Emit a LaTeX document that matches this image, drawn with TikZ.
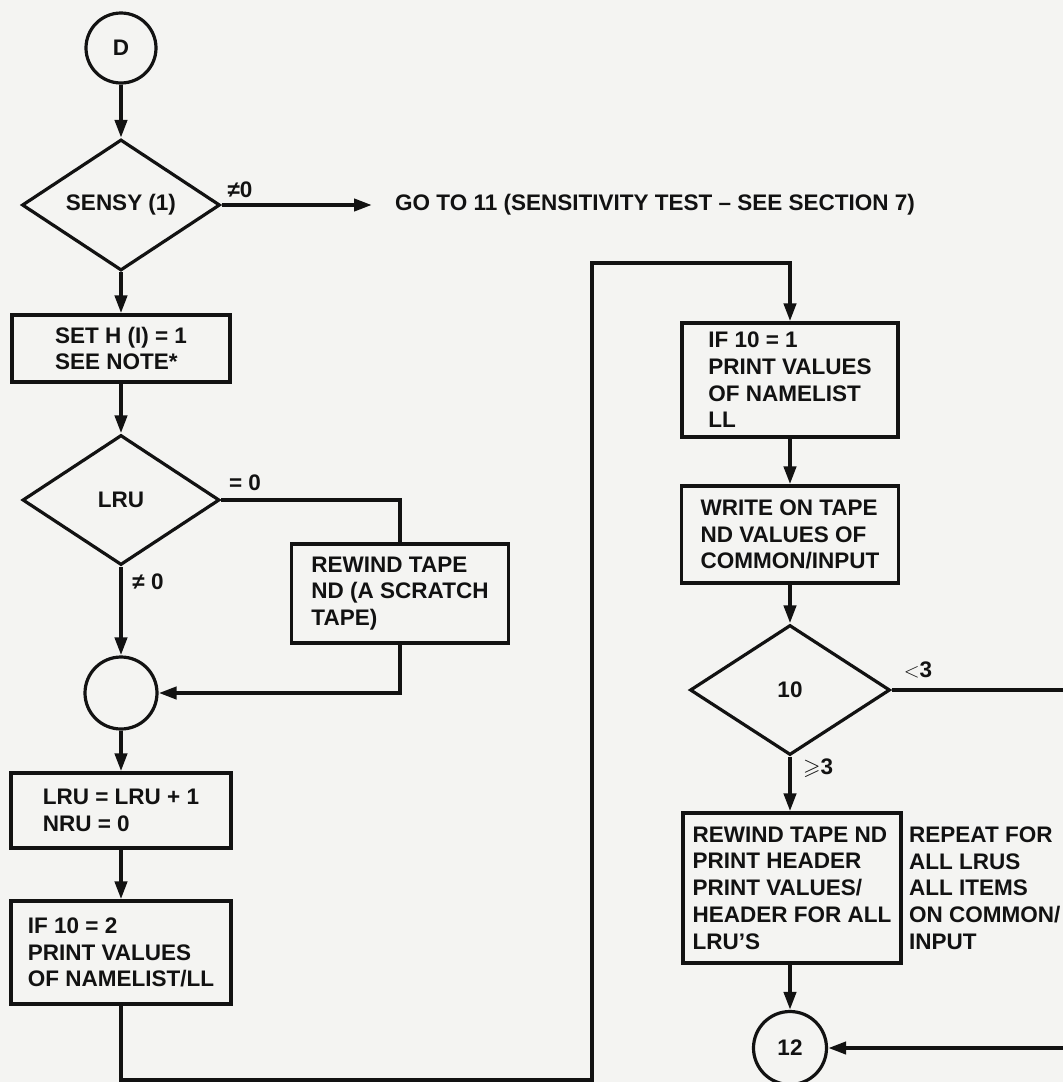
\documentclass[tikz,border=0pt]{standalone}
\usepackage{amssymb}
\usepackage{fontspec}
\setmainfont{Liberation Sans}
\usetikzlibrary{shapes.geometric,arrows.meta}
\definecolor{ink}{RGB}{18,18,18}
\definecolor{paper}{RGB}{244,244,242}
\begin{document}
\begin{tikzpicture}[x=1pt,y=-1pt,
  every node/.style={font=\fontsize{22.5}{26.7}\selectfont\bfseries, text=ink},
  box/.style={draw=ink, line width=3.2pt, rectangle, align=left, inner sep=0pt},
  dia/.style={draw=ink, line width=3.2pt, diamond, inner sep=0pt},
  conn/.style={draw=ink, circle, line width=3.2pt, inner sep=0pt},
  flow/.style={draw=ink, line width=4pt},
  arr/.style={flow, -{Triangle[length=18pt,width=12pt]}},
  lbl/.style={inner sep=0pt}
]
\useasboundingbox (0,0) rectangle (1063,1082);
\fill[paper] (0,0) rectangle (1063,1082);

% left column
\node[conn, minimum size=70pt] (D) at (121,48) {D};
\node[dia, minimum width=198pt, minimum height=130pt] (sensy) at (121,205) {SENSY (1)};
\node[lbl, anchor=west] (goto) at (395,205) {GO TO 11 (SENSITIVITY TEST \textendash{} SEE SECTION 7)};
\node[lbl] (l1) at (240,190) {≠0};
\node[box, minimum width=218pt, minimum height=67pt] (set) at (121,348.5) {SET H (I) = 1\\SEE NOTE*};
\node[dia, minimum width=197pt, minimum height=130pt] (lru) at (121,500) {LRU};
\node[lbl] (l2) at (245,483) {= 0};
\node[box, minimum width=217pt, minimum height=99pt] (rew) at (400,593.5) {REWIND TAPE\\ND (A SCRATCH\\TAPE)};
\node[lbl] (l3) at (148,582) {≠ 0};
\node[conn, minimum size=72pt] (c1) at (121,693) {};
\node[box, minimum width=220pt, minimum height=75pt] (inc) at (121,810.5) {LRU = LRU + 1\\NRU = 0};
\node[box, minimum width=220pt, minimum height=103pt] (if2) at (121,952.5) {IF 10 = 2\\PRINT VALUES\\OF NAMELIST/LL};

% right column
\node[box, minimum width=216pt, minimum height=114pt] (if1) at (790,380) {IF 10 = 1\\PRINT VALUES\\OF NAMELIST\\LL};
\node[box, minimum width=217pt, minimum height=97pt] (wr) at (790,534.5) {WRITE ON TAPE\\ND VALUES OF\\COMMON/INPUT};
\node[dia, minimum width=200pt, minimum height=130pt] (ten) at (790,690) {10};
\node[lbl] (l4) at (918,670) {$<$3};
\node[lbl] (l5) at (818,768) {$\geqslant$3};
\node[box, minimum width=218pt, minimum height=150pt] (prt) at (792,888) {REWIND TAPE ND\\PRINT HEADER\\PRINT VALUES/\\HEADER FOR ALL\\LRU'S};
\node[lbl, anchor=west, align=left] (rep) at (909,888) {REPEAT FOR\\ALL LRUS\\ALL ITEMS\\ON COMMON/\\INPUT};
\node[conn, minimum size=73pt] (c12) at (790,1048) {12};

% free ends / corners
\coordinate (gend) at (372,205);
\coordinate (b1) at (121,1080);
\coordinate (b2) at (592,1080);
\coordinate (b3) at (592,263);
\coordinate (r1) at (1075,690);

% connectors
\draw[arr] (D) -- (sensy);
\draw[arr] (sensy.east) -- (gend);
\draw[arr] (sensy) -- (set);
\draw[arr] (set) -- (lru);
\draw[flow] (lru.east) -| (rew.north);
\draw[arr] (rew.south) |- (c1.east);
\draw[arr] (lru) -- (c1);
\draw[arr] (c1) -- (inc);
\draw[arr] (inc) -- (if2);
\draw[arr] (if2.south) -- (b1) -- (b2) -- (b3) -| (if1.north);
\draw[arr] (if1) -- (wr);
\draw[arr] (wr) -- (ten);
\draw[arr] (ten) -- (prt.north -| ten.south);
\draw[arr] (prt.south -| c12.north) -- (c12);
\draw[arr] (ten.east) -- (r1) |- (c12.east);
\end{tikzpicture}
\end{document}
